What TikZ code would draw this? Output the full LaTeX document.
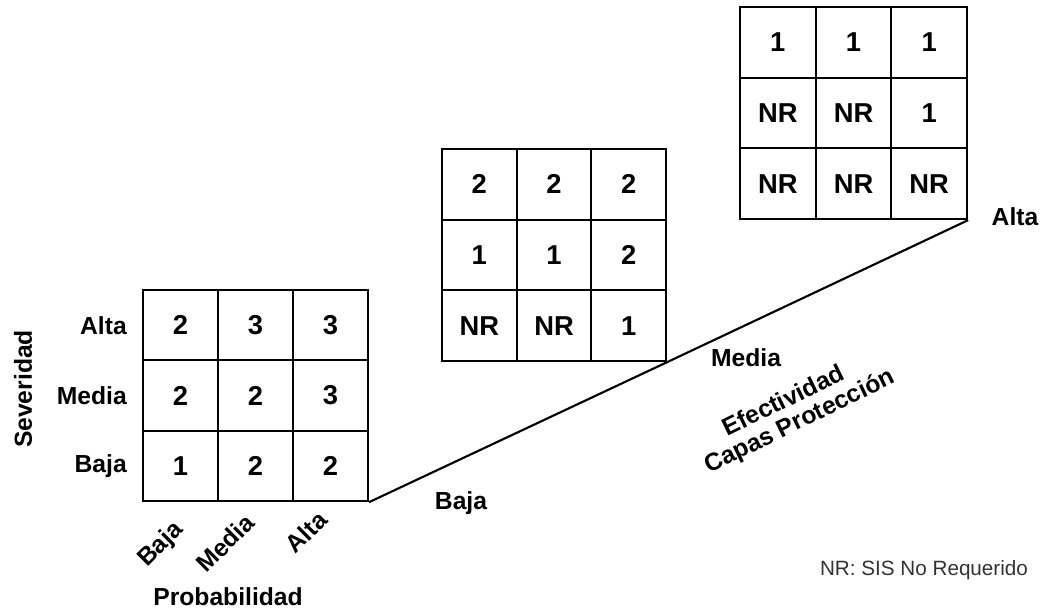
\documentclass[tikz,border=0pt]{standalone}
\usepackage{fontspec}
\setmainfont{Liberation Sans}
\begin{document}
\begin{tikzpicture}[x=0.75pt,y=-0.75pt,
  gridline/.style={line width=1.7pt, black},
  cellnum/.style={font=\fontsize{20.5}{22}\selectfont\bfseries},
  axislabel/.style={font=\fontsize{18.5}{21}\selectfont\bfseries, inner sep=0pt},
  note/.style={font=\fontsize{15.5}{18}\selectfont, text=black!80, inner sep=0pt}]
\useasboundingbox (0,0) rectangle (1041,610);

% three 3x3 risk matrices: name/left/top/cell width/cell height/entries
\foreach \g/\xo/\yo/\w/\h/\vals in {
    A/143/290/75/70.33/{2,3,3,2,2,3,1,2,2},
    B/442/149/74.67/70.67/{2,2,2,1,1,2,NR,NR,1},
    C/740/7/75.67/70.67/{1,1,1,NR,NR,1,NR,NR,NR}} {
  \foreach \v [count=\i from 0] in \vals {
    \pgfmathtruncatemacro\r{div(\i,3)}
    \pgfmathtruncatemacro\c{mod(\i,3)}
    \node[gridline, draw, cellnum, inner sep=0pt,
          minimum width=\w*0.75pt, minimum height=\h*0.75pt]
      (\g-\r\c) at ({\xo+\w*(\c+0.5)},{\yo+\h*(\r+0.5)}) {\v};
  }
}

% effectiveness axis through the lower right corners
\draw[line width=1.6pt] (A-22.south east) -- (B-22.south east) -- (C-22.south east);

% severity labels
\node[axislabel, anchor=east] (sevA) at (127,326) {Alta};
\node[axislabel, anchor=east] (sevM) at (127,396) {Media};
\node[axislabel, anchor=east] (sevB) at (127,466) {Baja};
\node[axislabel, rotate=90] (sev) at (23,389) {Severidad};

% probability labels
\node[axislabel, rotate=45] (probB) at (161,545) {Baja};
\node[axislabel, rotate=45] (probM) at (225,543) {Media};
\node[axislabel, rotate=45] (probA) at (306,532) {Alta};
\node[axislabel] (prob) at (228,597) {Probabilidad};

% effectiveness labels
\node[axislabel] (effB) at (461,503) {Baja};
\node[axislabel] (effM) at (746,358) {Media};
\node[axislabel] (effA) at (1015,217) {Alta};
\node[axislabel, rotate=26] (eff1) at (783,400) {Efectividad};
\node[axislabel, rotate=26] (eff2) at (800,422) {Capas Protección};

\node[note] (nr) at (924,570) {NR: SIS No Requerido};
\end{tikzpicture}
\end{document}
